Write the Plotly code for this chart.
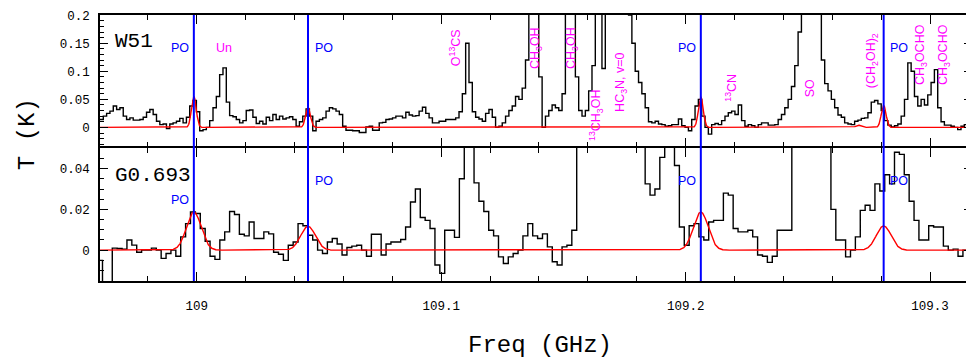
import numpy as np
import plotly.graph_objects as go

# ---------------- data ----------------
# W51 spectrum: uniform channels starting at W51_F0 with width W51_DF (GHz), values in K
W51_F0 = 108.9604
W51_DF = 0.00136
W51_T = [
    0.014, 0.020, 0.025, 0.029, 0.038, 0.032, 0.035, 0.020, 0.014, 0.017,
    0.013, 0.013, 0.014, 0.018, 0.027, 0.032, 0.023, 0.011, 0.005, 0.006,
    -0.002, 0.006, 0.008, 0.011, 0.016, 0.008, 0.018, 0.038, 0.048, 0.028,
    -0.006, -0.004, 0.000, 0.012, 0.035, 0.055, 0.094, 0.106, 0.045, 0.021,
    0.019, 0.014, 0.008, 0.012, 0.030, 0.031, 0.018, 0.007, 0.011, 0.006,
    0.018, 0.012, 0.023, 0.014, 0.020, 0.015, 0.017, 0.019, 0.014, 0.002,
    0.010, 0.020, 0.033, 0.020, -0.006, 0.011, 0.014, 0.017, 0.029, 0.035,
    0.033, 0.029, 0.023, 0.002, -0.005, -0.005, -0.006, -0.006, -0.009, -0.009,
    0.001, 0.002, -0.005, -0.005, 0.008, 0.009, 0.014, 0.015, 0.017, 0.020,
    0.020, 0.017, 0.027, 0.022, 0.020, 0.021, 0.029, 0.036, 0.025, 0.017,
    0.008, 0.008, 0.011, 0.011, 0.014, 0.014, 0.014, 0.017, 0.028, 0.060,
    0.150, 0.080, 0.028, 0.018, 0.015, 0.011, 0.025, 0.032, 0.018, 0.000,
    0.002, 0.008, 0.020, 0.030, 0.038, 0.055, 0.050, 0.070, 0.120, 0.300,
    0.300, 0.300, 0.090, 0.000, 0.020, 0.030, 0.040, 0.035, 0.030, 0.060,
    0.300, 0.300, 0.300, 0.090, 0.030, 0.020, 0.030, 0.065, 0.110, 0.300,
    0.300, 0.105, 0.300, 0.300, 0.300, 0.300, 0.300, 0.300, 0.300, 0.200,
    0.150, 0.100, 0.080, 0.060, 0.035, 0.010, 0.008, 0.011, 0.006, 0.005,
    0.002, 0.003, 0.005, 0.005, 0.015, 0.003, 0.000, -0.006, 0.014, 0.038,
    0.050, 0.020, 0.000, -0.012, 0.005, 0.007, 0.005, 0.012, 0.020, 0.026,
    0.029, 0.023, 0.040, 0.012, 0.002, 0.005, 0.003, 0.000, 0.005, 0.008,
    0.008, 0.004, 0.004, 0.005, 0.014, 0.023, 0.035, 0.050, 0.073, 0.110,
    0.170, 0.300, 0.300, 0.300, 0.300, 0.300, 0.300, 0.120, 0.078, 0.065,
    0.050, 0.035, 0.022, 0.018, 0.008, 0.006, 0.005, 0.011, 0.013, 0.016,
    0.017, 0.026, 0.045, 0.048, 0.042, 0.030, 0.012, 0.004, 0.001, 0.003,
    0.006, 0.020, 0.050, 0.115, 0.100, 0.055, 0.038, 0.050, 0.040, 0.058,
    0.080, 0.103, 0.035, 0.010, 0.004, 0.004, 0.002, 0.000, -0.004, 0.002,
    0.005, 0.010, 0.020,
]

# G0.693 spectrum
G0693_F0 = 108.95943
G0693_DF = 0.002
G0693_T = [
    -0.005, -0.030, -0.030, 0.001, 0.0008, 0.0005, 0.005, 0.0025, -0.001, 0.000,
    0.000, 0.001, 0.000, -0.004, -0.0016, 0.000, -0.003, 0.0065, 0.013, 0.0187,
    0.018, 0.0106, 0.0044, -0.003, -0.0045, 0.005, 0.009, 0.019, 0.0175, 0.0078,
    0.007, 0.0138, 0.0057, 0.0057, 0.009, 0.008, -0.001, -0.002, -0.005, 0.0024,
    0.004, 0.013, 0.012, 0.0073, 0.005, 0.000, -0.0016, 0.004, 0.0057, 0.003,
    -0.0024, 0.0013, 0.002, 0.0024, 0.000, -0.003, 0.0078, 0.0078, -0.0024, 0.003,
    0.004, 0.004, 0.0052, 0.0114, 0.0236, 0.030, 0.016, 0.0146, 0.0106, -0.0073,
    -0.0114, 0.0098, 0.0098, 0.0063, 0.035, 0.080, 0.080, 0.033, 0.024, 0.019,
    0.0098, 0.007, -0.0033, -0.0065, -0.0033, -0.0016, 0.000, 0.007, 0.013, 0.007,
    0.0057, 0.008, 0.0016, -0.0057, -0.0073, 0.0016, 0.0024, 0.0098, 0.080, 0.080,
    0.080, 0.080, 0.080, 0.080, 0.080, 0.080, 0.080, 0.080, 0.080, 0.080,
    0.080, 0.080, 0.0325, 0.027, 0.030, 0.0455, 0.080, 0.080, 0.0415, 0.0114,
    0.0024, 0.012, 0.013, 0.0065, 0.005, 0.0138, 0.0146, 0.0146, 0.028, 0.027,
    0.0106, 0.009, 0.009, 0.0098, 0.0065, -0.0024, -0.003, -0.006, -0.003, 0.0098,
    0.0098, 0.0098, 0.080, 0.080, 0.080, 0.080, 0.080, 0.080, 0.080, 0.080,
    0.020, 0.005, 0.005, -0.0033, 0.000, 0.0065, 0.0195, 0.022, 0.0195, 0.0325,
    0.029, 0.037, 0.0325, 0.048, 0.047, 0.037, 0.024, 0.0146, 0.005, 0.005,
    0.012, 0.0114, 0.0114, 0.002, 0.000, 0.0005, -0.003, 0.000, 0.004,
]

# PO model (Gaussian line parameters)
PO_FREQ = [108.9988, 109.0455, 109.2062, 109.2810]
W51_MODEL_FREQ = [108.9988, 109.0455, 109.2062, 109.2810, 109.2706]
W51_MODEL_AMP = [0.055, 0.036, 0.054, 0.039, 0.004]
W51_MODEL_FWHM = 0.0023
G0693_MODEL_FREQ = [108.9988, 109.0455, 109.2062, 109.2810]
G0693_MODEL_AMP = [0.0187, 0.0117, 0.0187, 0.0119]
G0693_MODEL_FWHM = 0.0071

# molecule labels (top panel)
MOL_TEXT = ["Un", "O<sup>13</sup>CS", "CH<sub>3</sub>OH", "CH<sub>3</sub>OH",
            "<sup>13</sup>CH<sub>3</sub>OH", "HC<sub>3</sub>N, v=0", "<sup>13</sup>CN",
            "SO", "(CH<sub>2</sub>OH)<sub>2</sub>", "CH<sub>3</sub>OCHO", "CH<sub>3</sub>OCHO"]
MOL_FREQ = [109.0112, 109.1057, 109.1388, 109.1535, 109.1633, 109.1735,
            109.2184, 109.2510, 109.2763, 109.2963, 109.3057]

X_RANGE = [108.96041, 109.31714]

# ---------------- helpers ----------------
def steps(f0, df, vals):
    x = [f0 + i * df for i in range(len(vals) + 1)]
    y = list(vals) + [vals[-1]]
    return x, y

def model(freqs, amps, fwhm, grid):
    s = fwhm / 2.3548
    out = np.zeros_like(grid)
    for f, a in zip(freqs, amps):
        out += a * np.exp(-0.5 * ((grid - f) / s) ** 2)
    return out

# page-pixel layout (the browser adds an 8 px body margin)
BODY = 8
PLOT_TOP, PLOT_BOT = 15, 281
H = PLOT_BOT - PLOT_TOP
def py(Y):
    return (PLOT_BOT - Y) / H

grid = np.linspace(X_RANGE[0], X_RANGE[1], 4000)

fig = go.Figure()
xw, yw = steps(W51_F0, W51_DF, W51_T)
fig.add_trace(go.Scatter(x=xw, y=yw, mode="lines", line=dict(color="black", width=1.4, shape="hv"),
                         xaxis="x2", yaxis="y2", showlegend=False))
fig.add_trace(go.Scatter(x=grid, y=model(W51_MODEL_FREQ, W51_MODEL_AMP, W51_MODEL_FWHM, grid),
                         mode="lines", line=dict(color="#ff0000", width=1.4),
                         xaxis="x2", yaxis="y2", showlegend=False))
xg, yg = steps(G0693_F0, G0693_DF, G0693_T)
fig.add_trace(go.Scatter(x=xg, y=yg, mode="lines", line=dict(color="black", width=1.4, shape="hv"),
                         xaxis="x", yaxis="y", showlegend=False))
fig.add_trace(go.Scatter(x=grid, y=model(G0693_MODEL_FREQ, G0693_MODEL_AMP, G0693_MODEL_FWHM, grid),
                         mode="lines", line=dict(color="#ff0000", width=1.4),
                         xaxis="x", yaxis="y", showlegend=False))

for f in PO_FREQ:
    fig.add_shape(type="line", xref="x", yref="paper", x0=f, x1=f, y0=0, y1=1,
                  line=dict(color="#0000ff", width=2))

TICKFONT = dict(family="Liberation Mono", size=12.5, color="black")
D = (PLOT_BOT - 147) / H
GAP = 1.5 / H

common_x = dict(range=X_RANGE, showline=True, linecolor="black", linewidth=1.5, mirror="ticks",
                ticks="inside", ticklen=9, tickwidth=1.2, tickcolor="black",
                dtick=0.1, tick0=109, showgrid=False, zeroline=False,
                minor=dict(dtick=0.02, ticks="inside", ticklen=5, tickwidth=1.2, tickcolor="black", showgrid=False))
common_y = dict(showline=True, linecolor="black", linewidth=1.5, mirror="ticks",
                ticks="inside", ticklen=8, tickwidth=1.2, tickcolor="black",
                showgrid=False, zeroline=False, tickfont=TICKFONT, ticklabelstandoff=6)

fig.update_layout(
    width=974 - BODY, height=361 - BODY,
    margin=dict(l=100 - BODY, r=0, t=PLOT_TOP - BODY, b=361 - PLOT_BOT, pad=0),
    paper_bgcolor="white", plot_bgcolor="white",
    xaxis=dict(common_x, anchor="y", domain=[0, 1], showticklabels=True, tickfont=TICKFONT,
               ticklabelstandoff=12),
    xaxis2=dict(common_x, anchor="y2", domain=[0, 1], matches="x", showticklabels=False),
    yaxis=dict(common_y, anchor="x", domain=[0, D - GAP / 2], range=[-0.01512, 0.05024], dtick=0.02, tick0=0,
               minor=dict(dtick=0.005, ticks="inside", ticklen=4, tickwidth=1.2, tickcolor="black", showgrid=False)),
    yaxis2=dict(common_y, anchor="x2", domain=[D + GAP / 2, 1], range=[-0.0336, 0.2003], dtick=0.05, tick0=0,
                minor=dict(dtick=0.01, ticks="inside", ticklen=4, tickwidth=1.2, tickcolor="black", showgrid=False)),
)

ann = []
LABFONT = "Liberation Sans"
# PO labels
po_side = [("right", -3), ("left", 5), ("right", -3), ("left", 4)]
po_bottom_y = [200, 181, 181, 181]
for f, (anc, sh), yb in zip(PO_FREQ, po_side, po_bottom_y):
    for Y in (48, yb):
        ann.append(dict(x=f, y=py(Y), xref="x", yref="paper", text="PO", showarrow=False,
                        xanchor=anc, yanchor="middle", xshift=sh,
                        font=dict(family=LABFONT, size=12.5, color="#0000ff")))
mol_y = [48, 48, 48, 48, 115, 82, 88, 88, 61, 55, 55]
for t, f, Y in zip(MOL_TEXT, MOL_FREQ, mol_y):
    ann.append(dict(x=f, y=py(Y), xref="x", yref="paper", text=t, showarrow=False,
                    textangle=0 if t == "Un" else -90, xanchor="center", yanchor="middle",
                    font=dict(family=LABFONT, size=12.5, color="#ff00ff")))
# panel names
ann.append(dict(x=13 / 874, y=py(41), xref="paper", yref="paper", text="W51", showarrow=False,
                xanchor="left", yanchor="middle", font=dict(family="Liberation Mono", size=21, color="black")))
ann.append(dict(x=13 / 874, y=py(175), xref="paper", yref="paper", text="G0.693", showarrow=False,
                xanchor="left", yanchor="middle", font=dict(family="Liberation Mono", size=21, color="black")))
# axis titles
ann.append(dict(x=441 / 874, y=py(345), xref="paper", yref="paper", text="Freq (GHz)", showarrow=False,
                xanchor="center", yanchor="middle", font=dict(family="Liberation Mono", size=24, color="black")))
ann.append(dict(x=(28 - 100) / 874, y=py(134), xref="paper", yref="paper", text="T (K)", showarrow=False,
                textangle=-90, xanchor="center", yanchor="middle",
                font=dict(family="Liberation Mono", size=24, color="black")))
fig.update_layout(annotations=ann)

fig.write_html("out.html")
